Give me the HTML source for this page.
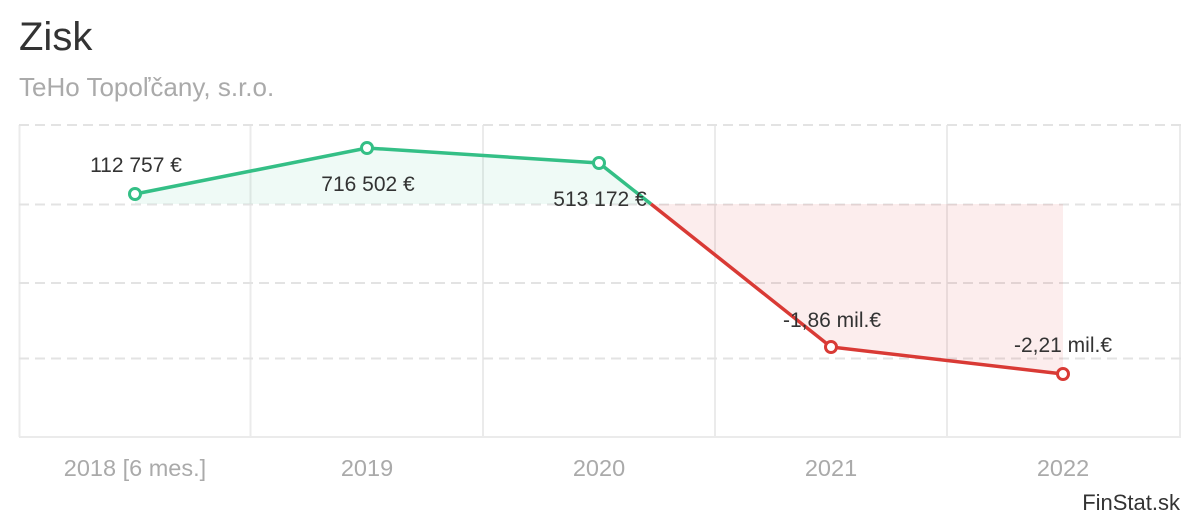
<!DOCTYPE html>
<html><head><meta charset="utf-8"><style>
body{margin:0;width:1200px;height:520px;background:#fff;overflow:hidden;font-family:"Liberation Sans",sans-serif}
</style></head><body>
<svg width="1200" height="520" xmlns="http://www.w3.org/2000/svg" font-family="Liberation Sans, sans-serif">
<text x="19" y="50" font-size="40" fill="#333">Zisk</text>
<text x="19" y="96" font-size="26" fill="#aaa">TeHo Topoľčany, s.r.o.</text>
<g stroke="#ebebeb" stroke-width="2">
<line x1="19.5" y1="125" x2="19.5" y2="437"/>
<line x1="250.5" y1="125" x2="250.5" y2="437"/>
<line x1="483" y1="125" x2="483" y2="437"/>
<line x1="715" y1="125" x2="715" y2="437"/>
<line x1="947" y1="125" x2="947" y2="437"/>
<line x1="1180" y1="125" x2="1180" y2="437"/>
<line x1="19" y1="437" x2="1181" y2="437"/>
</g>
<g stroke="#e3e3e3" stroke-width="2" stroke-dasharray="10,6">
<line x1="19" y1="125" x2="1181" y2="125"/>
<line x1="19" y1="204.5" x2="1181" y2="204.5"/>
<line x1="19" y1="283" x2="1181" y2="283"/>
<line x1="19" y1="358.5" x2="1181" y2="358.5"/>
</g>
<polygon points="135,194 367,148 599,163 651,204 135,204" fill="#34bf86" fill-opacity="0.08"/>
<polygon points="651,204 831,347 1063,374 1063,204" fill="#d93a35" fill-opacity="0.09"/>
<polyline points="135,194 367,148 599,163 651,204" fill="none" stroke="#34bf86" stroke-width="3.5"/>
<polyline points="651,204 831,347 1063,374" fill="none" stroke="#d93a35" stroke-width="3.5"/>
<g fill="#fff" stroke-width="3">
<circle cx="135" cy="194" r="5.5" stroke="#34bf86"/>
<circle cx="367" cy="148" r="5.5" stroke="#34bf86"/>
<circle cx="599" cy="163" r="5.5" stroke="#34bf86"/>
<circle cx="831" cy="347" r="5.5" stroke="#d93a35"/>
<circle cx="1063" cy="374" r="5.5" stroke="#d93a35"/>
</g>
<g font-size="21" fill="#333" text-anchor="middle">
<text x="136" y="172">112 757 €</text>
<text x="368" y="191">716 502 €</text>
<text x="600" y="206">513 172 €</text>
<text x="832" y="327">-1,86 mil.€</text>
<text x="1063" y="352">-2,21 mil.€</text>
</g>
<g font-size="23.5" fill="#aaa" text-anchor="middle">
<text x="135" y="476">2018 [6 mes.]</text>
<text x="367" y="476">2019</text>
<text x="599" y="476">2020</text>
<text x="831" y="476">2021</text>
<text x="1063" y="476">2022</text>
</g>
<text x="1180" y="510" font-size="22" fill="#333" text-anchor="end">FinStat.sk</text>
</svg>
</body></html>
